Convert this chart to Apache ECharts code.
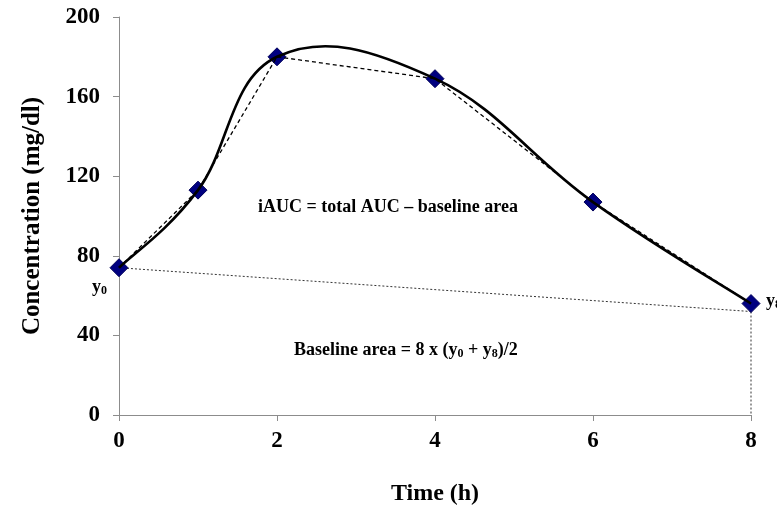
<!DOCTYPE html>
<html><head><meta charset="utf-8">
<script src="https://cdn.jsdelivr.net/npm/echarts@6/dist/echarts.min.js"></script>
<style>html,body{margin:0;padding:0;background:#fff}#c{width:777px;height:511px}</style>
</head><body><div id="c"></div>
<script>
const times = [0, 1, 2, 4, 6, 8];
const conc = [74, 113, 180, 169, 107, 56];
const baselineY = [74, 52];
const xTicks = [0, 2, 4, 6, 8];
const yTicks = [0, 40, 80, 120, 160, 200];

const pts = times.map((t, i) => [t, conc[i]]);
const F = '"Liberation Serif", "Times New Roman", serif';
const TENSION = 0.2;

function renderSmooth(params, api) {
  if (params.dataIndex !== 0) return null;
  const p = pts.map(d => api.coord(d));
  const n = p.length;
  let path = 'M' + p[0][0] + ' ' + p[0][1];
  for (let i = 0; i < n - 1; i++) {
    const a = p[Math.max(i - 1, 0)], b = p[i], c = p[i + 1], d = p[Math.min(i + 2, n - 1)];
    const c1 = [b[0] + (c[0] - a[0]) * TENSION, b[1] + (c[1] - a[1]) * TENSION];
    const c2 = [c[0] - (d[0] - b[0]) * TENSION, c[1] - (d[1] - b[1]) * TENSION];
    path += ' C' + c1[0] + ' ' + c1[1] + ' ' + c2[0] + ' ' + c2[1] + ' ' + c[0] + ' ' + c[1];
  }
  return { type: 'path', shape: { pathData: path },
    style: { fill: 'none', stroke: '#000', lineWidth: 2.6 } };
}

const chart = echarts.init(document.getElementById('c'));
const sub = { n: { font: 'bold 18px ' + F, fill: '#000' }, s: { font: 'bold 12px ' + F, fill: '#000', padding: [8, 0, 0, 0] } };
chart.setOption({
  animation: false,
  grid: { left: 119, right: 26, top: 17, bottom: 95 },
  xAxis: {
    type: 'value', min: 0, max: 8, interval: 2,
    name: 'Time (h)', nameLocation: 'middle', nameGap: 67,
    nameTextStyle: { fontFamily: F, fontWeight: 'bold', fontSize: 24, color: '#000' },
    axisLine: { lineStyle: { color: '#8c8c8c', width: 1 } },
    axisTick: { show: true, length: 6, lineStyle: { color: '#8c8c8c' } },
    axisLabel: { margin: 15, fontFamily: F, fontWeight: 'bold', fontSize: 23, color: '#000' },
    splitLine: { show: false }
  },
  yAxis: {
    type: 'value', min: 0, max: 200, interval: 40,
    name: 'Concentration (mg/dl)', nameLocation: 'middle', nameGap: 74,
    nameTextStyle: { fontFamily: F, fontWeight: 'bold', fontSize: 25, color: '#000' },
    axisLine: { show: true, lineStyle: { color: '#8c8c8c', width: 1 } },
    axisTick: { show: true, length: 6, lineStyle: { color: '#8c8c8c' } },
    axisLabel: { margin: 19, fontFamily: F, fontWeight: 'bold', fontSize: 23, color: '#000' },
    splitLine: { show: false }
  },
  series: [
    { type: 'line', data: [[times[0], baselineY[0]], [times[times.length-1], baselineY[1]]],
      symbol: 'none', lineStyle: { color: '#333', width: 1, type: [2, 2] }, z: 1 },
    { type: 'line', data: [[times[times.length-1], baselineY[1]], [times[times.length-1], 0]],
      symbol: 'none', lineStyle: { color: '#333', width: 1, type: [2, 2] }, z: 1 },
    { type: 'scatter', data: pts, symbol: 'diamond', symbolSize: 18,
      itemStyle: { color: '#000080', opacity: 1, borderColor: '#00005a', borderWidth: 1 }, z: 2 },
    { type: 'custom', data: pts, renderItem: renderSmooth, z: 3 },
    { type: 'line', data: pts, symbol: 'none',
      lineStyle: { color: '#000', width: 1.3, type: [4, 3] }, z: 3 }
  ],
  graphic: [
    { type: 'text', left: 258, top: 198, style: { text: 'iAUC = total AUC – baseline area', font: 'bold 18px ' + F, fill: '#000' } },
    { type: 'text', left: 294, top: 341, style: { text: '{n|Baseline area = 8 x (y}{s|0}{n| + y}{s|8}{n|)/2}', rich: sub } },
    { type: 'text', left: 92, top: 278, style: { text: '{n|y}{s|0}', rich: sub } },
    { type: 'text', left: 766, top: 292, style: { text: '{n|y}{s|8}', rich: sub } }
  ]
});
</script></body></html>
